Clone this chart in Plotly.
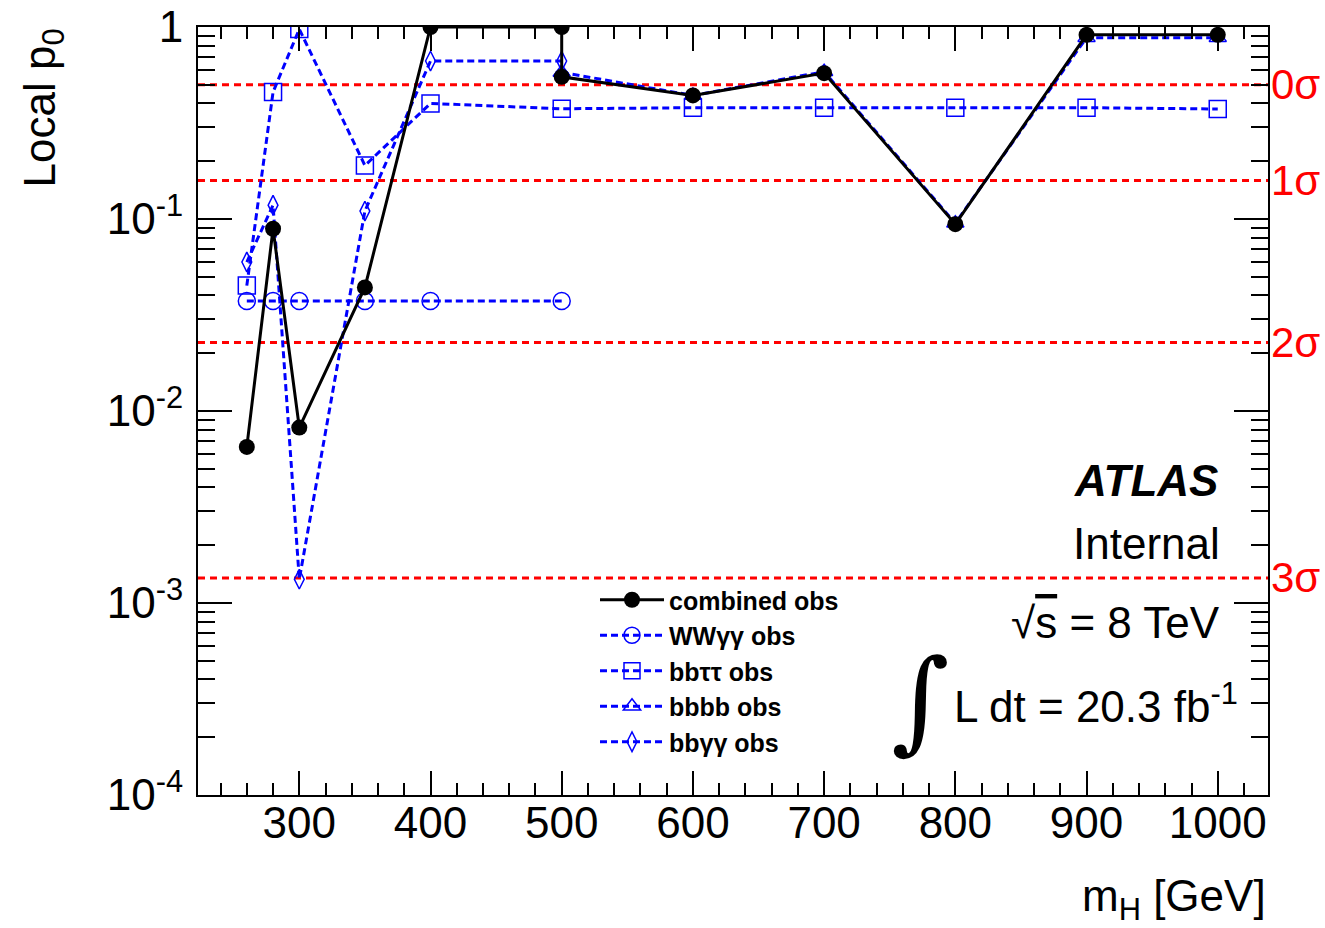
import math
import plotly.graph_objects as go

# ---------------- data ----------------
mass_comb = [260, 280, 300, 350, 400, 500, 500, 600, 700, 800, 900, 1000]
p0_comb = [0.0065, 0.089, 0.0082, 0.044, 1.0, 1.0, 0.55, 0.44, 0.575, 0.094, 0.91, 0.91]

mass_ww = [260, 280, 300, 350, 400, 500]
p0_ww = [0.0374, 0.0374, 0.0374, 0.0374, 0.0374, 0.0374]

mass_bbtt = [260, 280, 300, 350, 400, 500, 600, 700, 800, 900, 1000]
p0_bbtt = [0.045, 0.458, 0.975, 0.19, 0.40, 0.375, 0.38, 0.38, 0.38, 0.38, 0.374]

mass_bbbb = [500, 600, 700, 800, 900, 1000]
p0_bbbb = [0.58, 0.44, 0.585, 0.095, 0.88, 0.88]

mass_bbgg = [260, 280, 300, 350, 400, 500]
p0_bbgg = [0.0597, 0.118, 0.00133, 0.110, 0.665, 0.665]

sigma_labels = ["0σ", "1σ", "2σ", "3σ"]
sigma_p0 = [0.5, 0.1587, 0.02275, 0.00135]

x_range = [222.8, 1038.3]
x_major = [300, 400, 500, 600, 700, 800, 900, 1000]
x_minor = [240, 260, 280, 320, 340, 360, 380, 420, 440, 460, 480, 520, 540, 560, 580,
           620, 640, 660, 680, 720, 740, 760, 780, 820, 840, 860, 880, 920, 940, 960,
           980, 1020]
y_major = [1e-4, 1e-3, 1e-2, 1e-1, 1]
y_major_text = ["10<sup>-4</sup>", "10<sup>-3</sup>", "10<sup>-2</sup>", "10<sup>-1</sup>", "1"]
y_minor_mult = [2, 3, 4, 5, 6, 7, 8, 9]
y_minor_exp = [-4, -3, -2, -1]
y_minor = [m * 10.0 ** e for e in y_minor_exp for m in y_minor_mult]

FONT = "Liberation Sans, Arial, Helvetica, sans-serif"
BLUE = "rgb(0,0,255)"
RED = "rgb(255,0,0)"
BLUE_DASH = "7px,4px"

fig = go.Figure()

# sigma reference lines
for lab, p in zip(sigma_labels, sigma_p0):
    fig.add_trace(go.Scatter(
        x=x_range, y=[p, p], mode="lines", showlegend=False, hoverinfo="skip",
        line=dict(color=RED, width=3, dash="7px,5px")))

blue_series = [
    ("WWγγ obs", mass_ww, p0_ww, "circle-open", 17, 2),
    ("bbττ obs", mass_bbtt, p0_bbtt, "square-open", 17, 3),
    ("bbbb obs", mass_bbbb, p0_bbbb, "triangle-up-open", 15, 4),
    ("bbγγ obs", mass_bbgg, p0_bbgg, "diamond-tall-open", 14, 5),
]
for name, xs, ys, sym, size, rank in blue_series:
    fig.add_trace(go.Scatter(
        x=xs, y=ys, mode="lines+markers", name=name, legendrank=rank,
        line=dict(color=BLUE, width=3, dash=BLUE_DASH),
        marker=dict(symbol=sym, size=size, color=BLUE, line=dict(color=BLUE, width=1.5))))

fig.add_trace(go.Scatter(
    x=mass_comb, y=p0_comb, mode="lines+markers", name="combined obs", legendrank=1,
    line=dict(color="black", width=3),
    marker=dict(symbol="circle", size=16, color="black")))

# ---------------- layout ----------------
L, R, T, B = 198, 1268, 27, 795
W, H = 1325, 928
pw, ph = R - L, B - T


def px(x):
    return (x - L) / pw


def py(y):
    return (B - y) / ph


fig.update_layout(
    width=W, height=H,
    margin=dict(l=L, r=W - R, t=T, b=H - B, pad=0, autoexpand=False),
    paper_bgcolor="white", plot_bgcolor="white",
    font=dict(family=FONT, color="black", size=44),
    showlegend=True,
    legend=dict(
        x=px(595), y=py(577), xanchor="left", yanchor="top",
        bgcolor="rgba(0,0,0,0)", borderwidth=0,
        font=dict(family=FONT, size=25, weight="bold", color="black"),
        itemwidth=64, tracegroupgap=0),
)

fig.update_xaxes(
    range=x_range, showgrid=False, zeroline=False, automargin=False,
    showline=True, linecolor="black", linewidth=2, mirror="allticks",
    tickmode="array", tickvals=x_major, ticktext=[str(v) for v in x_major],
    ticks="inside", ticklen=24, tickwidth=1.5, tickcolor="black",
    tickfont=dict(family=FONT, size=44), ticklabelstandoff=-12,
    minor=dict(tickmode="array", tickvals=x_minor, ticks="inside", ticklen=12,
               tickwidth=1.5, tickcolor="black", showgrid=False),
)
fig.update_yaxes(
    type="log", range=[-4, 0], showgrid=False, zeroline=False, automargin=False,
    showline=True, linecolor="black", linewidth=2, mirror="allticks",
    tickmode="array", tickvals=y_major, ticktext=y_major_text,
    ticks="inside", ticklen=34, tickwidth=1.5, tickcolor="black",
    tickfont=dict(family=FONT, size=44), ticklabelstandoff=4,
    minor=dict(tickmode="array", tickvals=y_minor, ticks="inside", ticklen=17,
               tickwidth=1.5, tickcolor="black", showgrid=False),
)

ann = []
# sigma labels
for lab, p in zip(sigma_labels, sigma_p0):
    ann.append(dict(xref="paper", yref="y", x=px(1269), y=math.log10(p), text=lab,
                    showarrow=False, xanchor="left", yanchor="middle",
                    font=dict(family=FONT, size=42, color=RED)))
# axis titles
ann.append(dict(xref="paper", yref="paper", x=1.0, y=py(899), text="m<sub>H</sub> [GeV]",
                showarrow=False, xanchor="right", yanchor="middle",
                font=dict(family=FONT, size=44)))
ann.append(dict(xref="paper", yref="paper", x=px(42), y=1.0, text="Local p<sub>0</sub>",
                showarrow=False, textangle=-90, xanchor="center", yanchor="top",
                font=dict(family=FONT, size=44)))
# ATLAS labels
ann.append(dict(xref="paper", yref="paper", x=px(1220), y=py(481), text="<b><i>ATLAS</i></b>",
                showarrow=False, xanchor="right", yanchor="middle",
                font=dict(family=FONT, size=44)))
ann.append(dict(xref="paper", yref="paper", x=px(1222), y=py(543), text="Internal",
                showarrow=False, xanchor="right", yanchor="middle",
                font=dict(family=FONT, size=44)))
ann.append(dict(xref="paper", yref="paper", x=px(1222), y=py(622),
                text="√<span style=\"text-decoration:overline\">s</span> = 8 TeV",
                showarrow=False, xanchor="right", yanchor="middle",
                font=dict(family=FONT, size=44)))
ann.append(dict(xref="paper", yref="paper", x=px(1240), y=py(703),
                text="L dt = 20.3 fb<sup>-1</sup>",
                showarrow=False, xanchor="right", yanchor="middle",
                font=dict(family=FONT, size=44)))
ann.append(dict(xref="paper", yref="paper", x=px(920), y=py(700), text="∫",
                showarrow=False, xanchor="center", yanchor="middle",
                font=dict(family="DejaVu Serif, serif", size=112)))
fig.update_layout(annotations=ann)

fig.write_html("out.html", config={"displayModeBar": False},
               post_script="document.body.style.margin='0';document.body.style.padding='0';")
